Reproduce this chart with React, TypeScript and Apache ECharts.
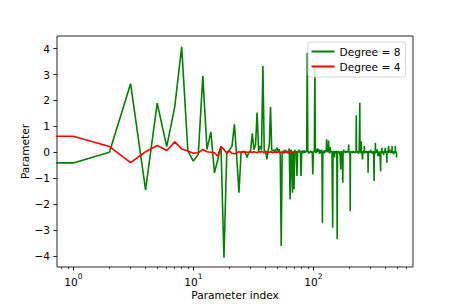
import React, { useEffect, useRef } from 'react';
import * as echarts from 'echarts';

// Parameter values for indices 1..494 (Degree = 8)
const degree8Values: number[] = [
  -0.41, 0.0, 2.65, -1.45, 1.9, 0.22, 1.75, 4.07, 0.05, -0.34,
  -0.08, 2.94, 0.11, 0.79, -0.79, -0.28, 0.24, -4.07, 0.0, 0.08,
  0.24, 1.08, -0.2, -1.56, 0.0, 0.02, 0.03, -0.2, 0.0, 0.05,
  0.73, 0.1, 0.3, 1.53, 0.05, 0.24, 0.1, 3.33, 0.05, 0.05,
  -0.27, 0.05, 0.3, 1.75, 0.1, 0.05, 0.1, 0.0, 0.12, 0.17,
  0.0, 0.12, -0.1, -3.62, 0.0, 0.05, -0.05, 0.1, 0.0, 0.05,
  0.0, -0.05, 0.15, -1.82, 0.1, 0.0, -1.56, 0.05, -1.43, 0.1,
  0.0, 0.05, -0.92, 0.05, 0.0, 0.1, 0.0, 0.05, -0.92, 0.02,
  0.06, -0.03, 0.0, 0.08, -0.02, 0.04, 0.0, 0.05, 3.84, 0.0,
  0.03, -0.05, 0.02, 0.0, 0.06, -0.02, 0.0, 0.03, -0.86, 0.0,
  0.05, 0.0, 3.33, 0.02, -0.03, 0.1, 0.0, 0.15, 0.02, 0.0,
  0.12, -0.05, 0.0, 0.08, 0.0, -0.04, 0.1, 0.0, -2.72, 0.02,
  0.0, 0.05, -0.03, 0.0, 0.08, 0.0, 0.04, 0.0, 0.5, 0.02,
  0.0, 0.1, 0.0, 0.45, 0.05, 0.0, -0.05, 0.2, 0.0, 0.03,
  0.0, 0.05, -0.02, 0.0, -2.91, 0.0, 0.05, 0.0, 0.02, -0.2,
  0.0, 0.04, 0.0, -0.05, 0.02, 0.0, 0.05, -3.36, 0.0, 0.03,
  0.0, -0.02, 0.05, 0.0, 0.03, -0.1, 0.0, 0.02, -0.66, 0.0,
  0.04, 0.0, -0.03, 0.02, 0.0, -1.18, 0.0, 0.05, 0.1, 0.0,
  -0.02, 0.03, 0.0, 0.05, 0.0, -0.03, 0.0, 0.02, 0.0, 0.04,
  0.0, -0.02, 0.03, 0.0, 0.05, 0.0, 0.3, 0.0, 0.02, -0.03,
  0.0, 0.03, -2.27, 0.0, 0.04, 0.0, -0.02, 0.0, 0.03, 0.0,
  0.02, 0.0, -0.03, 0.0, 0.05, 0.0, 0.02, -0.02, 0.0, 0.03,
  0.0, 0.02, 0.0, -0.03, 0.0, 0.05, 0.0, 1.43, 0.0, 0.03,
  0.0, -0.02, 0.0, 0.04, 0.0, 0.02, 0.0, -0.05, 0.0, 0.03,
  0.0, 0.02, 0.0, 1.91, 0.0, 0.05, 0.0, -0.03, 0.0, 0.02,
  0.43, 0.0, 0.03, 0.0, -0.02, 0.0, -0.28, 0.0, 0.04, 0.0,
  0.02, 0.0, -0.03, 0.0, 0.05, 0.24, 0.0, 0.02, 0.0, -0.02,
  0.0, 0.03, 0.0, 0.05, 0.0, -0.03, 0.0, 0.02, 0.0, 0.04,
  0.0, -0.02, 0.0, 0.03, 0.0, -0.79, 0.0, 0.02, 0.0, 0.05,
  0.0, -0.03, 0.0, 0.02, 0.0, 0.04, 0.0, -0.02, 0.0, 0.03,
  0.1, 0.0, -0.03, 0.0, 0.05, 0.0, 0.02, 0.0, -0.04, 0.0,
  0.03, 0.0, 0.02, 0.0, -0.03, 0.0, 0.05, 0.0, 0.02, 0.0,
  -1.11, 0.0, 0.03, 0.0, 0.02, 0.0, -0.05, 0.0, 0.37, 0.0,
  0.02, 0.0, -0.03, 0.0, 0.04, 0.0, 0.02, 0.0, -0.02, 0.0,
  0.11, 0.0, 0.03, 0.0, -0.02, -0.15, 0.0, 0.02, 0.0, -0.15,
  0.0, 0.03, 0.0, 0.02, 0.0, -0.03, 0.0, 0.04, 0.0, 0.02,
  0.0, -0.02, 0.0, -0.73, 0.0, 0.03, 0.0, 0.02, 0.0, -0.03,
  0.0, 0.05, 0.17, 0.0, 0.02, 0.0, -0.03, 0.0, 0.04, 0.0,
  0.02, 0.0, -0.02, 0.0, 0.03, -0.1, 0.0, 0.02, 0.0, -0.03,
  0.0, 0.04, 0.0, 0.02, 0.0, -0.02, 0.0, 0.17, 0.0, 0.03,
  0.0, -0.03, 0.0, 0.02, 0.0, 0.04, 0.0, -0.02, 0.0, -0.4,
  0.0, 0.03, 0.0, 0.02, 0.0, -0.03, 0.0, 0.05, 0.0, 0.02,
  0.0, -0.02, 0.0, 0.24, 0.0, 0.03, 0.0, -0.03, 0.0, 0.02,
  0.0, 0.04, 0.0, -0.02, 0.0, 0.03, 0.0, 0.1, 0.0, -0.03,
  0.0, 0.02, 0.0, 0.04, 0.0, -0.02, 0.0, 0.03, 0.0, 0.02,
  0.0, -0.03, 0.24, 0.0, 0.02, 0.0, -0.02, 0.0, 0.04, 0.0,
  0.02, 0.0, -0.03, 0.0, 0.03, 0.0, -0.08, 0.0, 0.02, 0.0,
  0.04, 0.0, -0.02, 0.0, 0.03, 0.0, 0.02, 0.0, -0.03, 0.0,
  0.05, 0.24, 0.0, 0.02, 0.0, -0.03, 0.0, 0.04, 0.0, 0.02,
  0.0, -0.03, 0.0, -0.2,
];

// Parameter values for indices 1..69 (Degree = 4)
const degree4Values: number[] = [
  0.62, 0.22, -0.4, 0.02, 0.26, 0.07, 0.4, 0.13, 0.05, -0.04,
  -0.02, 0.11, 0.02, 0.0, -0.02, -0.15, 0.22, 0.11, -0.04, 0.05,
  -0.04, -0.06, -0.03, 0.02, 0.0, 0.03, -0.02, 0.01, 0.0, 0.02,
  -0.01, 0.02, 0.0, -0.02, 0.03, 0.0, 0.04, 0.01, -0.02, 0.0,
  0.02, -0.01, 0.0, 0.03, 0.0, -0.02, 0.01, 0.0, 0.02, -0.01,
  0.0, 0.02, 0.0, -0.01, 0.01, 0.0, 0.02, 0.0, -0.01, 0.0,
  0.01, 0.0, 0.02, -0.01, 0.0, 0.01, 0.0, 0.0, 0.0,
];

const seriesNames = ['Degree = 8', 'Degree = 4'];
const seriesColors = ['#008000', '#ff0000'];
const xMajorTicks = [1, 10, 100];
const xMajorExponents = ['0', '1', '2'];
const xMinorTicks = [0.8, 0.9, 2, 3, 4, 5, 6, 7, 8, 9, 20, 30, 40, 50, 60, 70, 80, 90, 200, 300, 400, 500, 600];
const yTicks = [-4, -3, -2, -1, 0, 1, 2, 3, 4];
const xLimits = [0.731, 677];
const yLimits = [-4.43, 4.49];

// index 0 lies at -infinity on a log axis; matplotlib clips it far to the left
const INDEX_ZERO_ON_LOG = 1e-9;

function toPoints(values: number[]) {
  const pts: [number, number][] = [[INDEX_ZERO_ON_LOG, values[0]]];
  values.forEach((v, i) => pts.push([i + 1, v]));
  return pts;
}

const FONT = 'DejaVu Sans';
const FS = 10.6;

export default function App() {
  const ref = useRef<HTMLDivElement>(null);
  useEffect(() => {
    if (!ref.current) return;
    const chart = echarts.init(ref.current, undefined, { renderer: 'svg' });
    const allSeries = [degree8Values, degree4Values];
    chart.setOption({
      animation: false,
      grid: {
        left: 57, right: 46, top: 36, bottom: 39,
        show: true, borderColor: '#000', borderWidth: 0.85, backgroundColor: 'transparent',
      },
      legend: {
        orient: 'vertical',
        left: 308, top: 42,
        itemWidth: 23, itemHeight: 2, itemGap: 2,
        icon: 'rect',
        padding: [3, 5, 4, 3.5],
        backgroundColor: 'rgba(255,255,255,0.8)',
        borderColor: '#cccccc', borderWidth: 0.85, borderRadius: 2.5,
        textStyle: { fontFamily: FONT, fontSize: FS, color: '#000', lineHeight: 13 },
        data: seriesNames,
      },
      xAxis: [
        {
          type: 'log', logBase: 10, min: xLimits[0], max: xLimits[1],
          name: 'Parameter index', nameLocation: 'middle', nameGap: 22, nameMoveOverlap: false,
          nameTextStyle: { fontFamily: FONT, fontSize: FS, color: '#000' },
          axisLine: { show: false, onZero: false },
          splitLine: { show: false },
          axisTick: { show: true, customValues: xMajorTicks, length: 3.7, lineStyle: { color: '#000', width: 0.85 } },
          axisLabel: {
            customValues: xMajorTicks, margin: 5,
            fontFamily: FONT, fontSize: FS, color: '#000',
            formatter: (v: number) => {
              const k = xMajorTicks.indexOf(Math.round(v));
              return k < 0 ? '' : `{b|10}{s|${xMajorExponents[k]}}`;
            },
            rich: {
              b: { fontFamily: FONT, fontSize: FS, color: '#000', lineHeight: 15, verticalAlign: 'bottom' },
              s: { fontFamily: FONT, fontSize: 7.6, color: '#000', lineHeight: 9, verticalAlign: 'top' },
            },
          },
        },
        {
          type: 'log', logBase: 10, min: xLimits[0], max: xLimits[1], gridIndex: 0, position: 'bottom',
          axisLine: { show: false, onZero: false }, splitLine: { show: false },
          axisLabel: { show: false },
          axisTick: { show: true, customValues: xMinorTicks, length: 2.1, lineStyle: { color: '#000', width: 0.7 } },
        },
      ],
      yAxis: {
        type: 'value', min: yLimits[0], max: yLimits[1],
        name: 'Parameter', nameLocation: 'middle', nameGap: 27, nameRotate: 90, nameMoveOverlap: false,
        nameTextStyle: { fontFamily: FONT, fontSize: FS, color: '#000' },
        axisLine: { show: false, onZero: false }, splitLine: { show: false },
        axisTick: { show: true, customValues: yTicks, length: 3.7, lineStyle: { color: '#000', width: 0.85 } },
        axisLabel: {
          customValues: yTicks, margin: 7,
          fontFamily: FONT, fontSize: FS, color: '#000',
          formatter: (v: number) => String(v).replace('-', '\u2212'),
        },
      },
      series: allSeries.map((vals, k) => ({
        name: seriesNames[k],
        type: 'line',
        xAxisIndex: 0,
        data: toPoints(vals),
        symbol: 'none',
        clip: true,
        color: seriesColors[k],
        lineStyle: { color: seriesColors[k], width: 1.6 },
        itemStyle: { color: seriesColors[k] },
      })),
    });
    return () => chart.dispose();
  }, []);
  return <div ref={ref} style={{ position: 'absolute', left: 0, top: 0, width: 459, height: 306 }} />;
}
